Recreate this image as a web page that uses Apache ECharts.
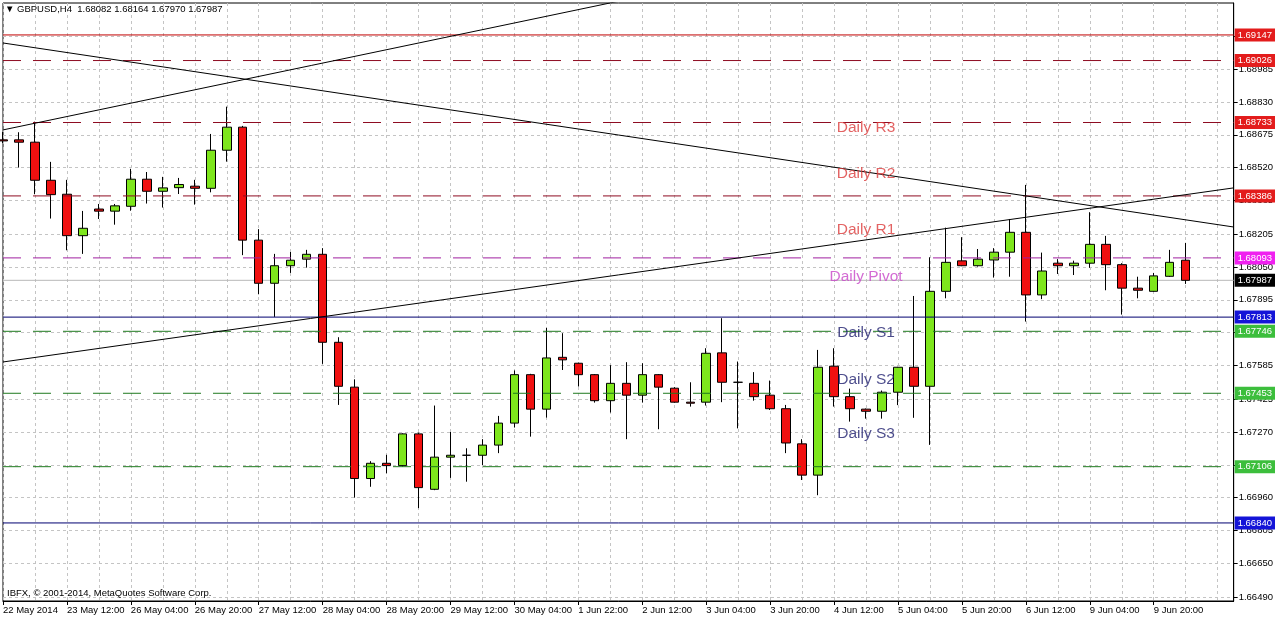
<!DOCTYPE html>
<html><head><meta charset="utf-8">
<script src="https://cdn.jsdelivr.net/npm/echarts@6/dist/echarts.min.js"></script>
<style>html,body{margin:0;padding:0;background:#fff}#c{width:1276px;height:619px}</style>
</head><body><div id="c"></div>
<script>
// ---------------- DATA ----------------
const symbolTitle = '▼ GBPUSD,H4  1.68082 1.68164 1.67970 1.67987';
const copyrightText = 'IBFX, © 2001-2014, MetaQuotes Software Corp.';
const firstTimeLabel = '22 May 2014';

const barTimes = [
 '22 May 20:00','23 May 00:00','23 May 04:00','23 May 08:00','23 May 12:00','23 May 16:00','23 May 20:00',
 '26 May 00:00','26 May 04:00','26 May 08:00','26 May 12:00','26 May 16:00','26 May 20:00',
 '27 May 00:00','27 May 04:00','27 May 08:00','27 May 12:00','27 May 16:00','27 May 20:00',
 '28 May 00:00','28 May 04:00','28 May 08:00','28 May 12:00','28 May 16:00','28 May 20:00',
 '29 May 00:00','29 May 04:00','29 May 08:00','29 May 12:00','29 May 16:00','29 May 20:00',
 '30 May 00:00','30 May 04:00','30 May 08:00','30 May 12:00','30 May 16:00',
 '1 Jun 22:00','2 Jun 00:00','2 Jun 04:00','2 Jun 08:00','2 Jun 12:00','2 Jun 16:00','2 Jun 20:00',
 '3 Jun 00:00','3 Jun 04:00','3 Jun 08:00','3 Jun 12:00','3 Jun 16:00','3 Jun 20:00',
 '4 Jun 00:00','4 Jun 04:00','4 Jun 08:00','4 Jun 12:00','4 Jun 16:00','4 Jun 20:00',
 '5 Jun 00:00','5 Jun 04:00','5 Jun 08:00','5 Jun 12:00','5 Jun 16:00','5 Jun 20:00',
 '6 Jun 00:00','6 Jun 04:00','6 Jun 08:00','6 Jun 12:00','6 Jun 16:00','6 Jun 20:00',
 '9 Jun 00:00','9 Jun 04:00','9 Jun 08:00','9 Jun 12:00','9 Jun 16:00','9 Jun 20:00',
 '10 Jun 00:00','10 Jun 04:00'
];
const emptySlotsRight = 3;

const opens = [1.68651,1.68651,1.68640,1.68460,1.68394,1.68198,1.68324,1.68314,1.68337,1.68465,
 1.68408,1.68425,1.68432,1.68422,1.68602,1.68711,1.68177,1.67973,1.68056,1.68087,
 1.68110,1.67694,1.67482,1.67050,1.67122,1.67111,1.67261,1.66999,1.67151,1.67160,
 1.67160,1.67208,1.67312,1.67541,1.67378,1.67623,1.67595,1.67541,1.67418,1.67500,
 1.67444,1.67541,1.67477,1.67411,1.67411,1.67644,1.67505,1.67500,1.67444,1.67380,
 1.67214,1.67066,1.67581,1.67437,1.67378,1.67368,1.67458,1.67576,1.67486,1.67935,
 1.68079,1.68056,1.68083,1.68120,1.68214,1.67918,1.68068,1.68056,1.68068,1.68157,
 1.68061,1.67950,1.67935,1.68006,1.68082];
const highs = [1.68688,1.68687,1.68737,1.68547,1.68462,1.68315,1.68348,1.68348,1.68514,1.68499,
 1.68476,1.68471,1.68462,1.68679,1.68808,1.68717,1.68229,1.68112,1.68121,1.68131,
 1.68139,1.67718,1.67519,1.67132,1.67162,1.67264,1.67267,1.67395,1.67270,1.67193,
 1.67236,1.67346,1.67561,1.67545,1.67762,1.67737,1.67598,1.67544,1.67586,1.67600,
 1.67595,1.67544,1.67482,1.67505,1.67666,1.67808,1.67603,1.67553,1.67513,1.67398,
 1.67236,1.67658,1.67666,1.67475,1.67381,1.67466,1.67578,1.67913,1.68096,1.68236,
 1.68191,1.68135,1.68139,1.68277,1.68438,1.68118,1.68087,1.68080,1.68309,1.68197,
 1.68068,1.68004,1.68022,1.68131,1.68164];
const lows = [1.68636,1.68520,1.68394,1.68279,1.68129,1.68112,1.68277,1.68250,1.68316,1.68350,
 1.68331,1.68395,1.68345,1.68403,1.68548,1.68106,1.67921,1.67814,1.68022,1.68047,
 1.67592,1.67398,1.66960,1.67011,1.67075,1.67106,1.66910,1.66995,1.67053,1.67035,
 1.67114,1.67170,1.67291,1.67248,1.67338,1.67563,1.67485,1.67409,1.67362,1.67236,
 1.67409,1.67283,1.67408,1.67390,1.67395,1.67411,1.67287,1.67418,1.67374,1.67170,
 1.67043,1.66971,1.67390,1.67319,1.67333,1.67333,1.67397,1.67337,1.67209,1.67902,
 1.68054,1.68052,1.68000,1.68004,1.67792,1.67898,1.68017,1.68012,1.68046,1.67940,
 1.67825,1.67902,1.67933,1.68003,1.67970];
const closes = [1.68646,1.68640,1.68460,1.68392,1.68198,1.68233,1.68314,1.68339,1.68465,1.68408,
 1.68424,1.68440,1.68422,1.68602,1.68711,1.68177,1.67973,1.68056,1.68082,1.68110,
 1.67694,1.67486,1.67050,1.67122,1.67111,1.67261,1.67007,1.67151,1.67160,1.67160,
 1.67208,1.67312,1.67541,1.67378,1.67620,1.67611,1.67541,1.67418,1.67500,1.67444,
 1.67541,1.67482,1.67411,1.67406,1.67642,1.67505,1.67505,1.67437,1.67380,1.67218,
 1.67066,1.67576,1.67437,1.67380,1.67368,1.67458,1.67576,1.67486,1.67935,1.68072,
 1.68056,1.68087,1.68120,1.68214,1.67918,1.68031,1.68056,1.68068,1.68157,1.68061,
 1.67950,1.67940,1.68008,1.68072,1.67987];

const yTickLabels = ['1.66490','1.66650','1.66805','1.66960','1.67115','1.67270','1.67425','1.67585',
 '1.67740','1.67895','1.68050','1.68205','1.68365','1.68520','1.68675','1.68830','1.68985','1.69140'];
const yMin = 1.66471, yMax = 1.69298;

// horizontal price levels
const levelValues = [1.69147, 1.69026, 1.68733, 1.68386, 1.68093, 1.67987, 1.67813, 1.67746, 1.67453, 1.67106, 1.66840];
const levelKinds  = ['resSolid','res','res','res','pivot','bid','sup','supDash','supDash','supDash','sup'];

// text objects
const annotationTexts  = ['Daily R3','Daily R2','Daily R1','Daily Pivot','Daily S1','Daily S2','Daily S3'];
const annotationPrices = [1.68707, 1.68490, 1.68225, 1.68003, 1.67738, 1.67516, 1.67261];
const annotationKinds  = ['res','res','res','pivot','sup','sup','sup'];
const annotationBar = 54;

// trend lines: [bar index, price]
const trendLineA = [[0, 1.68698], [40, 1.69330]];
const trendLineB = [[0, 1.69109], [77, 1.68239]];
const trendLineC = [[0, 1.67601], [77, 1.68424]];

// ---------------- STYLES ----------------
const FONT = 'Liberation Sans, Arial, sans-serif';
const levelStyle = {
  resSolid: {line: '#c00000', type: 'solid', box: '#e31c1c'},
  res:      {line: '#8e0c22', type: [18, 12], box: '#e31c1c'},
  pivot:    {line: '#a020a0', type: [18, 12], box: '#f020f0'},
  bid:      {line: '#b8b8b8', type: 'solid', box: '#000000'},
  sup:      {line: '#000070', type: 'solid', box: '#1414d8'},
  supDash:  {line: '#1f7a1f', type: [18, 12], box: '#3cbe3c'}
};
const annotationColor = {res: '#dc3c3c', pivot: '#c846c8', sup: '#1e1e6e'};

const categories = barTimes.concat(Array(emptySlotsRight).fill(''));
const lastIndex = categories.length - 1;
const candleData = opens.map((o, i) => [o, closes[i], lows[i], highs[i]]);

const chart = echarts.init(document.getElementById('c'), null, {renderer: 'canvas'});
const showEvery4 = (idx, val) => idx % 4 === 0 && val !== '';

const levelSeries = levelValues.map((v, i) => {
  const s = levelStyle[levelKinds[i]];
  return {
    type: 'line', data: [[0, v], [lastIndex, v]], symbol: 'none', silent: true,
    z: levelKinds[i] === 'bid' ? 1 : 4,
    lineStyle: {color: s.line, type: s.type, width: 1},
    endLabel: {show: true, distance: 1, formatter: v.toFixed(5), color: '#fff',
      backgroundColor: s.box, padding: [2, 3, 1, 3], fontSize: 9.5, fontFamily: FONT}
  };
});

const option = {
  animation: false,
  backgroundColor: '#ffffff',
  textStyle: {fontFamily: FONT},
  title: [
    {text: symbolTitle, left: 5, top: 4, padding: 0,
     textStyle: {fontSize: 9.5, fontWeight: 'normal', color: '#000', fontFamily: FONT}},
    {text: copyrightText, left: 7, top: 588, padding: 0,
     textStyle: {fontSize: 9.5, fontWeight: 'normal', color: '#000', fontFamily: FONT}}
  ],
  grid: {left: 2, top: 3, right: 42, bottom: 18, show: true, borderColor: '#000', borderWidth: 1, backgroundColor: '#fff'},
  xAxis: {
    type: 'category', data: categories, boundaryGap: false,
    axisLine: {show: true, lineStyle: {color: '#000', width: 1}},
    axisTick: {show: true, interval: showEvery4, length: 4, lineStyle: {color: '#000'}},
    axisLabel: {show: true, interval: showEvery4, align: 'left', margin: 4, fontSize: 9.5, color: '#000', fontFamily: FONT,
      formatter: (v, idx) => idx === 0 ? firstTimeLabel : v},
    splitLine: {show: true, interval: 1, lineStyle: {color: '#c4c4c4', type: [3, 3], width: 1}}
  },
  yAxis: {
    type: 'value', position: 'right', min: yMin, max: yMax,
    axisLine: {show: true, lineStyle: {color: '#000', width: 1}},
    axisTick: {show: true, length: 4, lineStyle: {color: '#000'}, customValues: yTickLabels.map(Number)},
    axisLabel: {show: true, margin: 5, fontSize: 9.5, color: '#000', fontFamily: FONT,
      customValues: yTickLabels.map(Number), formatter: v => v.toFixed(5)},
    splitLine: {show: true, lineStyle: {color: '#c4c4c4', type: [3, 3], width: 1}}
  },
  series: [
    {
      type: 'candlestick', name: 'GBPUSD', data: candleData, barWidth: 9, z: 2,
      itemStyle: {color: '#7ee61c', color0: '#f01010', borderColor: '#000', borderColor0: '#000', borderColorDoji: '#000', borderWidth: 1}
    },
    ...levelSeries,
    ...[trendLineA, trendLineB, trendLineC].map(d => ({
      type: 'line', data: d, symbol: 'none', z: 5, silent: true,
      lineStyle: {color: '#000', width: 1}
    })),
    {
      type: 'scatter', z: 6, silent: true, symbolSize: 1,
      itemStyle: {color: 'rgba(0,0,0,0)'},
      data: annotationTexts.map((t, i) => ({
        value: [annotationBar, annotationPrices[i]], name: t,
        label: {show: true, position: 'inside', formatter: t, fontSize: 15.5, fontFamily: FONT,
          color: annotationColor[annotationKinds[i]]}
      }))
    }
  ]
};
chart.setOption(option);
</script>
</body></html>
